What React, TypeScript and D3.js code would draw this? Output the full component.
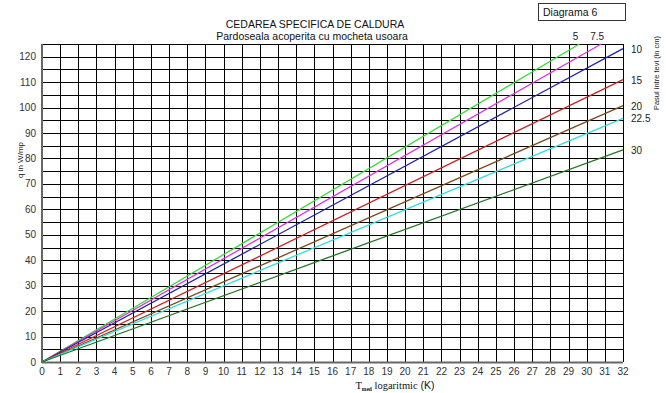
import React, { useEffect, useRef } from "react";
import * as d3 from "d3";

// pipe spacing (cm) for each line
const spacings = ["5", "7.5", "10", "15", "20", "22.5", "30"];
// end point of each straight line (start is origin)
const endX = [29.6, 30.8, 32, 32, 32, 32, 32];
const endY = [125, 125, 123.2, 111, 100.8, 95.8, 83.4];
const colors = ["#33dd33", "#dd33dd", "#2222aa", "#cc2222", "#7a4a1a", "#33dddd", "#227722"];

const xTicks = d3.range(0, 33);
const yTicks = d3.range(0, 130, 10);

const W = 666;
const H = 393;

const App: React.FC = () => {
  const ref = useRef<SVGSVGElement | null>(null);

  useEffect(() => {
    if (!ref.current) return;
    const svg = d3.select(ref.current);
    svg.selectAll("*").remove();

    const x = d3.scaleLinear().domain([0, 32]).range([42, 623]);
    const y = d3.scaleLinear().domain([0, 125]).range([362, 44]);

    svg.append("rect").attr("width", W).attr("height", H).attr("fill", "#fff");

    const grid = svg.append("g").attr("stroke", "#000").attr("stroke-width", 1);
    xTicks.forEach((t) => {
      grid
        .append("line")
        .attr("x1", Math.round(x(t)) + 0.5)
        .attr("x2", Math.round(x(t)) + 0.5)
        .attr("y1", y(0))
        .attr("y2", y(125));
    });
    d3.range(0, 130, 5).forEach((t) => {
      grid
        .append("line")
        .attr("x1", x(0))
        .attr("x2", x(32))
        .attr("y1", Math.round(y(t)) + 0.5)
        .attr("y2", Math.round(y(t)) + 0.5);
    });

    // axes
    svg
      .append("line")
      .attr("x1", x(0))
      .attr("x2", x(0))
      .attr("y1", y(0) + 1)
      .attr("y2", y(125))
      .attr("stroke", "#666")
      .attr("stroke-width", 2);
    svg
      .append("line")
      .attr("x1", x(0))
      .attr("x2", x(32))
      .attr("y1", y(0) + 0.5)
      .attr("y2", y(0) + 0.5)
      .attr("stroke", "#666")
      .attr("stroke-width", 2);

    const line = d3
      .line<[number, number]>()
      .x((d) => x(d[0]))
      .y((d) => y(d[1]));

    const tickFont = "Liberation Sans, Arial, sans-serif";

    spacings.forEach((s, i) => {
      const pts: [number, number][] = [
        [0, 0],
        [endX[i], endY[i]],
      ];
      svg
        .append("path")
        .attr("d", line(pts))
        .attr("fill", "none")
        .attr("stroke", colors[i])
        .attr("stroke-width", 1.3);

      const atTop = endY[i] >= 125;
      svg
        .append("text")
        .attr("x", atTop ? x(endX[i]) - 4 : x(32) + 8)
        .attr("y", atTop ? y(125) - 4 : y(endY[i]) + 4)
        .attr("text-anchor", atTop ? "middle" : "start")
        .style("font-family", tickFont)
        .style("font-size", "10px")
        .attr("fill", "#222")
        .text(s);
    });

    // tick labels
    xTicks.forEach((t) => {
      svg
        .append("text")
        .attr("x", x(t))
        .attr("y", y(0) + 13)
        .attr("text-anchor", "middle")
        .style("font-family", tickFont)
        .style("font-size", "10px")
        .attr("fill", "#333")
        .text(t);
    });
    yTicks.forEach((t) => {
      svg
        .append("text")
        .attr("x", x(0) - 6)
        .attr("y", y(t) + 3.5)
        .attr("text-anchor", "end")
        .style("font-family", tickFont)
        .style("font-size", "10px")
        .attr("fill", "#333")
        .text(t);
    });

    // titles
    svg
      .append("text")
      .attr("x", 315)
      .attr("y", 28)
      .attr("text-anchor", "middle")
      .style("font-family", tickFont)
      .style("font-size", "10.5px")
      .attr("fill", "#111")
      .text("CEDAREA SPECIFICA DE CALDURA");
    svg
      .append("text")
      .attr("x", 312)
      .attr("y", 40)
      .attr("text-anchor", "middle")
      .style("font-family", tickFont)
      .style("font-size", "10.5px")
      .attr("fill", "#111")
      .text("Pardoseala acoperita cu mocheta usoara");

    // diagram box
    svg
      .append("rect")
      .attr("x", 538.5)
      .attr("y", 3.5)
      .attr("width", 87)
      .attr("height", 17)
      .attr("fill", "#fff")
      .attr("stroke", "#333");
    svg
      .append("text")
      .attr("x", 543)
      .attr("y", 15.5)
      .style("font-family", tickFont)
      .style("font-size", "10.5px")
      .attr("fill", "#111")
      .text("Diagrama 6");

    // axis titles
    svg
      .append("text")
      .attr("transform", `translate(23,160) rotate(-90)`)
      .attr("text-anchor", "middle")
      .style("font-family", tickFont)
      .style("font-size", "8px")
      .attr("fill", "#222")
      .text("q in W/mp");
    svg
      .append("text")
      .attr("transform", `translate(659,73) rotate(-90)`)
      .attr("text-anchor", "middle")
      .style("font-family", tickFont)
      .style("font-size", "7.5px")
      .attr("fill", "#222")
      .text("Pasul intre tevi (in cm)");

    const xt = svg
      .append("text")
      .attr("x", 395)
      .attr("y", 389)
      .attr("text-anchor", "middle")
      .style("font-family", "Liberation Serif, Times New Roman, serif")
      .style("font-size", "10.5px")
      .attr("fill", "#111");
    xt.append("tspan").text("T");
    xt.append("tspan")
      .attr("dy", 1.5)
      .style("font-size", "5.5px")
      .style("font-weight", "bold")
      .text("med");
    xt.append("tspan").attr("dy", -1.5).text(" logaritmic");
    xt.append("tspan")
      .style("font-family", "Liberation Sans, Arial, sans-serif")
      .text(" (K)");
  }, []);

  return (
    <svg
      ref={ref}
      width={W}
      height={H}
      style={{ position: "absolute", left: 0, top: 0, display: "block" }}
    />
  );
};

export default App;
